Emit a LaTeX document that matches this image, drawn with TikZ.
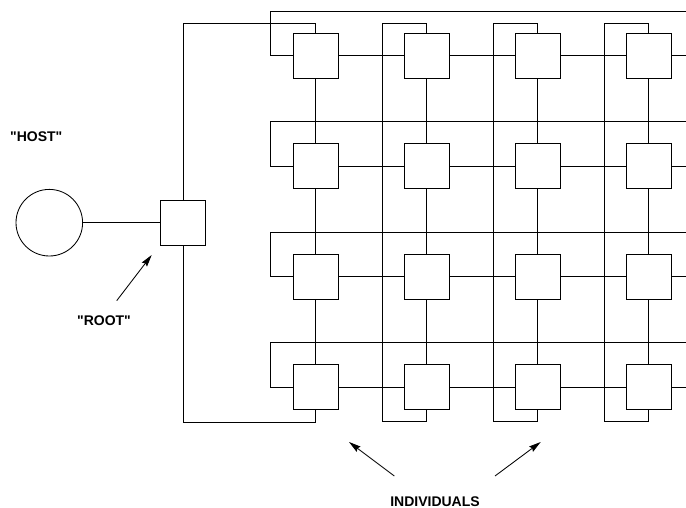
\documentclass[tikz,border=0pt]{standalone}
\usepackage{fontspec}
\setmainfont{Liberation Sans}
\newfontfamily\lblfont{Liberation Sans}
\usetikzlibrary{arrows.meta}
\begin{document}
\begin{tikzpicture}[x=1pt,y=-1pt,line width=0.85pt,
  cell/.style={draw,minimum size=45pt,inner sep=0pt},
  hostnode/.style={draw,circle,minimum size=66.6pt,inner sep=0pt},
  lbl/.style={font=\lblfont\bfseries\fontsize{14}{16}\selectfont,inner sep=0pt},
  pointer/.style={-{Stealth[length=12pt,width=6.5pt,inset=1.5pt]}}]
\useasboundingbox (0,0) rectangle (686,508);
% grid of individuals
\foreach \r in {1,...,4}{
  \foreach \c in {1,...,4}{
    \node[cell] (b\r\c) at ({315.7+111*(\c-1)},{55.7+110.5*(\r-1)}) {};
  }
}
% host and root
\node[hostnode] (host) at (49.3,222.7) {};
\node[cell] (root) at (183,222.7) {};
\draw (host) -- (root);
% row connections
\foreach \r in {1,...,4}{
  \coordinate (re\r) at (686,{55.7+110.5*(\r-1)});
  \coordinate (rw\r) at (686,{55.7+110.5*(\r-1)-44.6});
  \draw (b\r1.east) -- (b\r2.west);
  \draw (b\r2.east) -- (b\r3.west);
  \draw (b\r3.east) -- (b\r4.west);
  \draw (b\r4.east) -- (re\r);
  \draw (b\r1.west) -- ++(-22.2,0) |- (rw\r);
}
% column connections
\foreach \c in {1,...,4}{
  \draw (b1\c.south) -- (b2\c.north);
  \draw (b2\c.south) -- (b3\c.north);
  \draw (b3\c.south) -- (b4\c.north);
}
\foreach \c in {2,3,4}{
  \coordinate (ct\c) at ({315.7+111*(\c-1)-44.3},23.3);
  \coordinate (cb\c) at ({315.7+111*(\c-1)-44.3},421);
  \draw (b1\c.north) |- (ct\c) -- (cb\c) -| (b4\c.south);
}
\coordinate (ct1) at (183,23.3);
\coordinate (cb1) at (183,422);
\draw (b11.north) |- (ct1) -- (root.north);
\draw (root.south) -- (cb1) -| (b41.south);
% labels
\node[lbl] (hostlbl) at (36.3,136.5) {"HOST"};
\node[lbl] (rootlbl) at (104,320.7) {"ROOT"};
\node[lbl] (indlbl) at (435,501.3) {INDIVIDUALS};
% pointers
\coordinate (ra1) at (116.7,300.7);
\coordinate (ra2) at (151.7,255);
\coordinate (la1) at (394.3,476);
\coordinate (la2) at (349,442);
\coordinate (ia1) at (495,476);
\coordinate (ia2) at (540.7,442);
\draw[pointer] (ra1) -- (ra2);
\draw[pointer] (la1) -- (la2);
\draw[pointer] (ia1) -- (ia2);
\end{tikzpicture}
\end{document}
